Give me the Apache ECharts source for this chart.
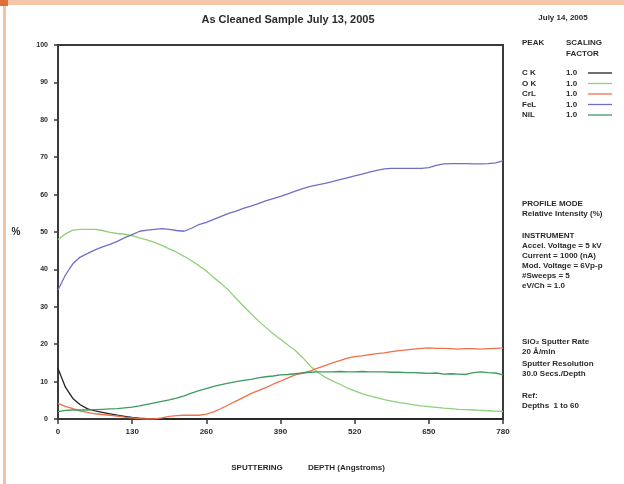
<!DOCTYPE html>
<html>
<head>
<meta charset="utf-8">
<script src="https://cdn.jsdelivr.net/npm/echarts@6/dist/echarts.min.js"></script>
<style>
html,body{margin:0;padding:0;background:#fff;}
#chart{width:624px;height:484px;}
</style>
</head>
<body>
<div id="chart"></div>
<script>
// depth in Angstroms (13 A per depth step, depths 1..60)
var depth = [];
for (var k = 0; k <= 60; k++) depth.push(k * 13);

var peakNames = ["C K", "O K", "CrL", "FeL", "NiL"];
var scaling = ["1.0", "1.0", "1.0", "1.0", "1.0"];
var peakColors = ["#222222", "#8fd07a", "#f0704a", "#6f6fc8", "#3e9a5e"];

var cK = [13.5, 8.5, 5.5, 3.8, 2.7, 2.2, 1.8, 1.4, 1.0, 0.7, 0.4, 0.2, 0.1, 0, 0, 0, 0, 0, 0, 0,
  0, 0, 0, 0, 0, 0, 0, 0, 0, 0, 0, 0, 0, 0, 0, 0, 0, 0, 0, 0,
  0, 0, 0, 0, 0, 0, 0, 0, 0, 0, 0, 0, 0, 0, 0, 0, 0, 0, 0, 0, 0];
var oK = [48.0, 49.5, 50.5, 50.7, 50.7, 50.7, 50.4, 49.9, 49.6, 49.4, 49.0, 48.4, 47.9, 47.2, 46.4, 45.5, 44.6, 43.5, 42.3, 41.0,
  39.6, 37.8, 36.2, 34.4, 32.3, 30.2, 28.2, 26.3, 24.5, 22.8, 21.3, 19.8, 18.3, 16.4, 14.2, 12.5, 11.2, 10.2, 9.3, 8.3,
  7.5, 6.8, 6.2, 5.7, 5.2, 4.8, 4.4, 4.1, 3.8, 3.5, 3.3, 3.1, 2.9, 2.8, 2.6, 2.5, 2.4, 2.3, 2.2, 2.1, 2.0];
var crL = [4.2, 3.4, 2.8, 2.1, 1.8, 1.4, 1.2, 1.0, 0.8, 0.5, 0.3, 0.1, 0, 0, 0.3, 0.7, 0.9, 1.0, 1.0, 1.0,
  1.3, 1.9, 2.8, 3.8, 4.8, 5.8, 6.8, 7.6, 8.4, 9.3, 10.1, 11.0, 11.8, 12.3, 12.8, 13.6, 14.3, 15.0, 15.6, 16.3,
  16.7, 16.9, 17.2, 17.5, 17.7, 18.0, 18.3, 18.5, 18.7, 18.9, 19.0, 18.9, 18.9, 18.8, 18.7, 18.8, 18.8, 18.7, 18.8, 18.9, 19.0];
var feL = [34.5, 38.5, 41.5, 43.3, 44.3, 45.2, 46.0, 46.7, 47.5, 48.5, 49.3, 50.2, 50.5, 50.7, 50.9, 50.7, 50.4, 50.2, 51.0, 52.0,
  52.6, 53.4, 54.2, 55.0, 55.6, 56.3, 56.9, 57.6, 58.3, 58.9, 59.5, 60.2, 60.9, 61.6, 62.2, 62.6, 63.0, 63.5, 64.0, 64.5,
  65.0, 65.5, 66.0, 66.5, 66.9, 67.0, 67.0, 67.0, 67.0, 67.0, 67.2, 67.8, 68.2, 68.3, 68.3, 68.3, 68.2, 68.2, 68.3, 68.5, 69.0];
var niL = [2.0, 2.3, 2.4, 2.4, 2.4, 2.5, 2.6, 2.7, 2.8, 3.0, 3.2, 3.5, 3.9, 4.3, 4.7, 5.1, 5.6, 6.2, 6.9, 7.6,
  8.1, 8.7, 9.2, 9.6, 10.0, 10.3, 10.6, 11.0, 11.3, 11.5, 11.8, 11.9, 12.1, 12.3, 12.5, 12.6, 12.6, 12.6, 12.7, 12.6,
  12.6, 12.7, 12.6, 12.6, 12.6, 12.5, 12.5, 12.4, 12.4, 12.3, 12.2, 12.3, 12.0, 12.1, 12.0, 11.9, 12.4, 12.6, 12.4, 12.3, 11.8];

var seriesValues = [cK, oK, crL, feL, niL];

var infoLines = [
  ["PROFILE MODE", 204], ["Relative Intensity (%)", 214],
  ["INSTRUMENT", 236], ["Accel. Voltage = 5 kV", 246], ["Current = 1000 (nA)", 256],
  ["Mod. Voltage = 6Vp-p", 266], ["#Sweeps = 5", 276], ["eV/Ch = 1.0", 286],
  ["SiO\u2082 Sputter Rate", 342], ["20 \u00C5/min", 352],
  ["Sputter Resolution", 364], ["30.0 Secs./Depth", 374],
  ["Ref:", 396], ["Depths  1 to 60", 406]
];

var FONT = "'Liberation Sans', Arial, sans-serif";
var TXT = "#2a2a2a";

function pairs(vals) {
  return vals.map(function (v, i) { return [depth[i], v]; });
}

var series = peakNames.map(function (n, i) {
  return {
    name: n, type: 'line', data: pairs(seriesValues[i]), showSymbol: false,
    lineStyle: { color: peakColors[i], width: 1.3 }, itemStyle: { color: peakColors[i] },
    z: 3, silent: true, animation: false
  };
});

var graphics = [
  { type: 'rect', shape: { x: 0, y: 0, width: 624, height: 5 }, style: { fill: '#f5c6a9' } },
  { type: 'rect', shape: { x: 3, y: 0, width: 3, height: 484 }, style: { fill: '#f2c2a6' } },
  { type: 'rect', shape: { x: 0, y: 0, width: 8, height: 6 }, style: { fill: '#e07038' } },
  { type: 'text', x: 288, y: 20, style: { text: 'As Cleaned Sample July 13, 2005', font: 'bold 11px ' + FONT, fill: TXT, textAlign: 'center', textVerticalAlign: 'middle' } },
  { type: 'text', x: 563, y: 18, style: { text: 'July 14, 2005', font: 'bold 8px ' + FONT, fill: TXT, textAlign: 'center', textVerticalAlign: 'middle' } },
  { type: 'text', x: 522, y: 43, style: { text: 'PEAK', font: 'bold 8px ' + FONT, fill: TXT, textVerticalAlign: 'middle' } },
  { type: 'text', x: 566, y: 43, style: { text: 'SCALING', font: 'bold 8px ' + FONT, fill: TXT, textVerticalAlign: 'middle' } },
  { type: 'text', x: 566, y: 54, style: { text: 'FACTOR', font: 'bold 8px ' + FONT, fill: TXT, textVerticalAlign: 'middle' } },
  { type: 'text', x: 16, y: 232, style: { text: '%', font: 'bold 10px ' + FONT, fill: TXT, textAlign: 'center', textVerticalAlign: 'middle' } },
  { type: 'text', x: 257, y: 468, style: { text: 'SPUTTERING', font: 'bold 8px ' + FONT, fill: TXT, textAlign: 'center', textVerticalAlign: 'middle' } },
  { type: 'text', x: 308, y: 468, style: { text: 'DEPTH (Angstroms)', font: 'bold 8px ' + FONT, fill: TXT, textVerticalAlign: 'middle' } }
];
peakNames.forEach(function (n, i) {
  var y = 73 + i * 10.5;
  graphics.push({ type: 'text', x: 522, y: y, style: { text: n, font: 'bold 8px ' + FONT, fill: TXT, textVerticalAlign: 'middle' } });
  graphics.push({ type: 'text', x: 566, y: y, style: { text: scaling[i], font: 'bold 8px ' + FONT, fill: TXT, textVerticalAlign: 'middle' } });
  graphics.push({ type: 'line', shape: { x1: 588, y1: y, x2: 612, y2: y }, style: { stroke: peakColors[i], lineWidth: 1.3 } });
});
infoLines.forEach(function (t) {
  graphics.push({ type: 'text', x: 522, y: t[1], style: { text: t[0], font: 'bold 8px ' + FONT, fill: TXT, textVerticalAlign: 'middle' } });
});

var chart = echarts.init(document.getElementById('chart'), null, { renderer: 'canvas' });
chart.setOption({
  animation: false,
  backgroundColor: '#ffffff',
  grid: { left: 58, right: 121, top: 45, bottom: 65, show: true, borderColor: '#3a3a3a', borderWidth: 2, backgroundColor: 'transparent' },
  xAxis: {
    type: 'value', min: 0, max: 780, interval: 130,
    axisLine: { show: true, lineStyle: { color: '#3a3a3a', width: 2 } },
    axisTick: { show: true, inside: false, length: 5, lineStyle: { color: '#3a3a3a', width: 1.5 } },
    axisLabel: { color: TXT, fontSize: 8, fontWeight: 'bold', fontFamily: FONT, margin: 9 },
    splitLine: { show: false }
  },
  yAxis: {
    type: 'value', min: 0, max: 100, interval: 10,
    axisLine: { show: true, lineStyle: { color: '#3a3a3a', width: 2 } },
    axisTick: { show: true, inside: false, length: 4, lineStyle: { color: '#3a3a3a', width: 1.5 } },
    axisLabel: { color: TXT, fontSize: 7, fontWeight: 'bold', fontFamily: FONT, margin: 10 },
    splitLine: { show: false }
  },
  series: series,
  graphic: graphics
});
</script>
</body>
</html>
